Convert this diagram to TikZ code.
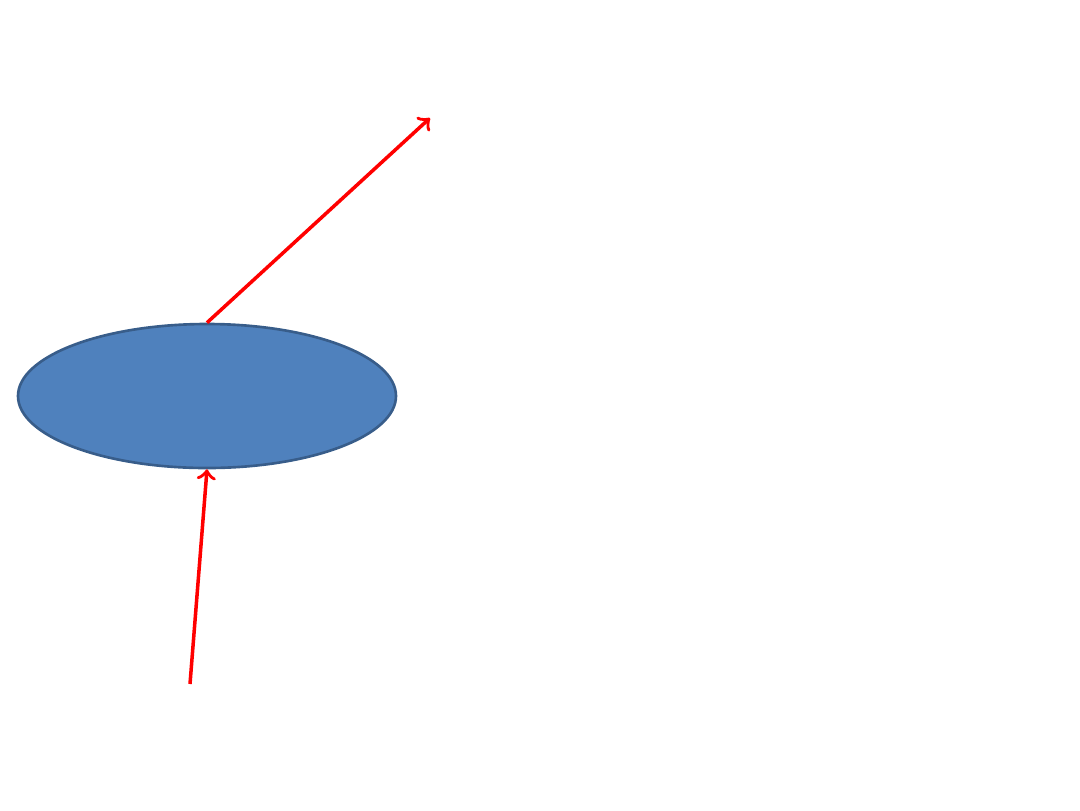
\documentclass[tikz,border=0pt]{standalone}
\usepackage{tikz}
\usetikzlibrary{arrows,positioning,calc,shapes.geometric}
\definecolor{discfill}{HTML}{4F81BD}
\definecolor{discline}{HTML}{385D8A}
\begin{document}
\begin{tikzpicture}
  \useasboundingbox (0,0) rectangle (10.8,8.1);
  \node (disc) [ellipse, fill=discfill, draw=discline, line width=0.75pt, minimum width = 3.78cm, minimum height = 1.44cm, inner sep=0pt] at (2.07,4.14) {};
  \coordinate (out) at (4.30,6.92);
  \coordinate (in) at (1.90,1.26);

  \path [->] [red, line width=1pt]
  (disc.north) edge (out)
  (in) edge (disc.south);
\end{tikzpicture}
\end{document}
